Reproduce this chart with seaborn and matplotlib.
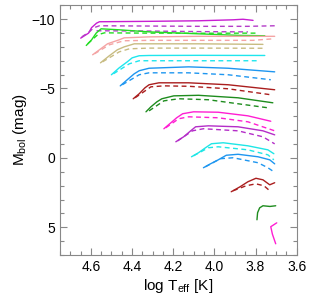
import matplotlib
matplotlib.use("Agg")
import matplotlib.pyplot as plt
from matplotlib.ticker import MultipleLocator
import seaborn as sns

# evolutionary tracks: (color, linestyle, logTeff, Mbol)
tracks = [
    ("#c81ed2", "-", [4.649, 4.611, 4.596, 4.572, 4.558, 4.317, 4.077, 3.909, 3.861, 3.812],
     [-8.63, -8.99, -9.39, -9.71, -9.81, -9.84, -9.88, -9.95, -9.99, -9.91]),
    ("#b43cc8", "--", [4.644, 4.606, 4.587, 4.558, 4.317, 4.077, 3.837, 3.707],
     [-8.72, -9.09, -9.37, -9.52, -9.50, -9.48, -9.48, -9.52]),
    ("#b43cc8", "--", [4.572, 4.317, 4.077, 3.837],
     [-9.16, -9.14, -9.10, -9.08]),
    ("#22dd22", "-", [4.622, 4.596, 4.574, 4.550, 4.462, 4.317, 4.077, 3.885, 3.755],
     [-8.10, -8.51, -8.99, -9.30, -9.23, -9.08, -8.94, -8.83, -8.80]),
    ("#22dd22", "--", [4.615, 4.567, 4.534, 4.317, 4.077, 3.788],
     [-8.22, -8.87, -9.01, -8.99, -8.98, -8.99]),
    ("#f4a4a4", "-", [4.591, 4.558, 4.519, 4.462, 4.438, 4.317, 4.077, 3.837, 3.707],
     [-7.43, -7.79, -8.22, -8.51, -8.65, -8.72, -8.76, -8.76, -8.76]),
    ("#f4a4a4", "--", [4.582, 4.510, 4.438, 4.317, 4.077, 3.812, 3.716],
     [-7.50, -8.15, -8.44, -8.47, -8.47, -8.47, -8.58]),
    ("#c8bc82", "-", [4.553, 4.510, 4.471, 4.438, 4.389, 4.317, 4.077, 3.764],
     [-6.85, -7.36, -7.79, -8.00, -8.22, -8.22, -8.22, -8.18]),
    ("#c8bc82", "--", [4.543, 4.462, 4.413, 4.317, 4.077, 3.764],
     [-6.92, -7.64, -7.86, -7.91, -7.91, -7.90]),
    ("#1ee6ee", "-", [4.500, 4.462, 4.423, 4.399, 4.365, 4.317, 4.077, 3.755],
     [-5.99, -6.49, -6.92, -7.21, -7.36, -7.38, -7.39, -7.38]),
    ("#1ee6ee", "--", [4.490, 4.413, 4.365, 4.317, 4.077, 3.788],
     [-6.06, -6.78, -7.00, -7.00, -7.00, -7.00]),
    ("#1e96f0", "-", [4.457, 4.423, 4.389, 4.365, 4.317, 4.125, 3.933, 3.707],
     [-5.19, -5.63, -6.06, -6.28, -6.46, -6.56, -6.46, -6.20]),
    ("#1e96f0", "--", [4.447, 4.365, 4.317, 4.125, 3.933, 3.726],
     [-5.27, -5.99, -6.13, -6.13, -5.99, -5.63]),
    ("#aa1e1e", "-", [4.394, 4.365, 4.337, 4.317, 4.269, 4.125, 3.933, 3.707],
     [-4.26, -4.62, -5.05, -5.27, -5.41, -5.41, -5.27, -4.91]),
    ("#aa1e1e", "--", [4.385, 4.308, 4.245, 4.125, 3.933, 3.726],
     [-4.33, -5.12, -5.19, -5.16, -4.98, -4.55]),
    ("#1e8c1e", "-", [4.332, 4.308, 4.279, 4.255, 4.197, 4.077, 3.885, 3.716],
     [-3.32, -3.68, -4.04, -4.26, -4.47, -4.51, -4.33, -3.97]),
    ("#1e8c1e", "--", [4.317, 4.245, 4.173, 4.029, 3.885, 3.740],
     [-3.39, -4.11, -4.26, -4.19, -3.90, -3.61]),
    ("#ff1ed2", "-", [4.245, 4.211, 4.183, 4.154, 4.101, 3.981, 3.837, 3.726],
     [-2.10, -2.53, -2.89, -3.18, -3.32, -3.29, -3.03, -2.64]),
    ("#ff1ed2", "--", [4.236, 4.173, 4.125, 3.981, 3.837, 3.707],
     [-2.17, -2.82, -2.96, -2.89, -2.60, -1.95]),
    ("#b42dc8", "-", [4.187, 4.149, 4.115, 4.091, 4.029, 3.885, 3.764, 3.707],
     [-1.16, -1.52, -1.95, -2.24, -2.31, -2.24, -1.95, -1.66]),
    ("#b42dc8", "--", [4.178, 4.106, 4.053, 3.885, 3.764, 3.707],
     [-1.23, -1.95, -2.10, -1.95, -1.52, -1.01]),
    ("#1ee6e6", "-", [4.111, 4.077, 4.043, 4.014, 3.957, 3.837, 3.740, 3.711],
     [-0.08, -0.37, -0.73, -1.02, -1.09, -0.87, -0.58, -0.30]),
    ("#1ee6e6", "--", [4.101, 4.029, 3.981, 3.837, 3.740, 3.711],
     [-0.15, -0.73, -0.80, -0.58, -0.22, 0.14]),
    ("#1e96f0", "-", [4.053, 4.019, 3.981, 3.942, 3.885, 3.788, 3.731, 3.707],
     [0.71, 0.43, 0.14, -0.19, -0.26, -0.08, 0.14, 0.43]),
    ("#1e96f0", "--", [4.043, 3.971, 3.909, 3.788, 3.740, 3.711],
     [0.64, 0.06, -0.01, 0.35, 0.71, 1.00]),
    ("#aa1e1e", "-", [3.918, 3.875, 3.837, 3.798, 3.764, 3.731, 3.707],
     [2.44, 2.08, 1.72, 1.47, 1.58, 1.94, 1.79]),
    ("#aa1e1e", "--", [3.909, 3.846, 3.798, 3.759, 3.731],
     [2.37, 2.01, 1.87, 2.01, 2.37]),
    ("#1e8c1e", "-", [3.793, 3.790, 3.780, 3.764, 3.730, 3.702],
     [4.46, 3.95, 3.60, 3.45, 3.50, 3.45]),
    ("#ff1ed2", "-", [3.697, 3.726, 3.718, 3.702],
     [4.68, 4.96, 5.50, 6.19]),
]

sns.set_style("ticks")
plt.rcParams['font.family'] = ['Liberation Sans', 'DejaVu Sans']
plt.rcParams['mathtext.fontset'] = 'custom'
plt.rcParams['mathtext.rm'] = 'Liberation Sans'
plt.rcParams['text.color'] = 'black'
plt.rcParams['axes.labelcolor'] = 'black'

fig = plt.figure(figsize=(3.17, 3.08), dpi=100)
ax = fig.add_axes([0.189, 0.172, 0.747, 0.811])

for color, ls, logt, mbol in tracks:
    kw = dict(dashes=(3.5, 2.5)) if ls == "--" else {}
    sns.lineplot(x=logt, y=mbol, sort=False, estimator=None, color=color,
                 linewidth=1.0, ax=ax, **kw)

ax.set_xlim(4.75, 3.6)
ax.set_ylim(7, -11)
ax.xaxis.set_major_locator(MultipleLocator(0.2))
ax.xaxis.set_minor_locator(MultipleLocator(0.05))
ax.yaxis.set_major_locator(MultipleLocator(5))
ax.yaxis.set_minor_locator(MultipleLocator(1))
ax.set_xticks([4.6, 4.4, 4.2, 4.0, 3.8, 3.6])
ax.set_xticklabels(["4.6", "4.4", "4.2", "4.0", "3.8", "3.6"])
ax.tick_params(which='both', direction='in', top=True, right=True,
               color='#888888', labelcolor='black', labelsize=10, width=0.8)
ax.tick_params(which='major', length=5)
ax.tick_params(which='minor', length=3)
for s in ax.spines.values():
    s.set_color('#888888')
    s.set_linewidth(0.8)
ax.set_xlabel(r"log T$_{\rm eff}$ [K]", fontsize=11, labelpad=2)
ax.set_ylabel(r"M$_{\rm bol}$ (mag)", fontsize=11, labelpad=2)

fig.savefig("out.png", dpi=100)
